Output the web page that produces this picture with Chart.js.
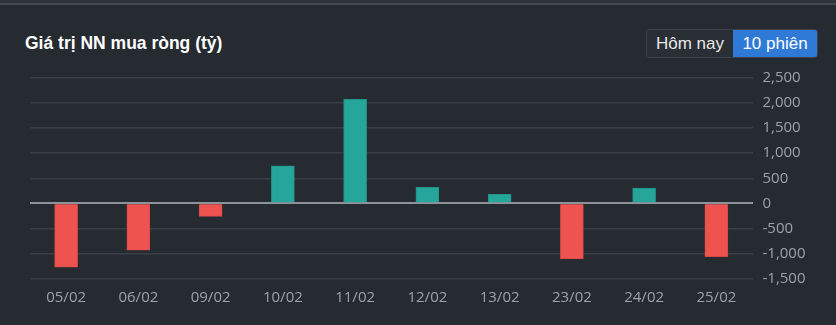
<!DOCTYPE html>
<html>
<head>
<meta charset="utf-8">
<script src="https://cdn.jsdelivr.net/npm/chart.js@4/dist/chart.umd.min.js"></script>
<style>
  html, body { margin: 0; padding: 0; background: #262a31; width: 836px; height: 325px; overflow: hidden; }
  #topband { position: absolute; left: 0; top: 0; width: 836px; height: 3px; background: #2f333a; }
  #topline { position: absolute; left: 0; top: 3px; width: 836px; height: 2px; background: #43474e; }
  #title { position: absolute; left: 25px; top: 33px; font: bold 17.5px "Liberation Sans", Arial, sans-serif; color: #ffffff; }
  #btns { position: absolute; left: 646px; top: 29px; height: 29px; display: flex; border: 1px solid #3d4149; border-radius: 3px; overflow: hidden; box-sizing: border-box; }
  .btn { font: 17px "Liberation Sans", Arial, sans-serif; line-height: 27px; color: #e8e8e8; padding: 0 8px; }
  #b1 { width: 86px; box-sizing: border-box; background: #2a2e35; text-align: center; }
  #b2 { width: 84px; box-sizing: border-box; background: #2f7ad6; color: #ffffff; text-align: center; }
  #wrap { position: absolute; left: 0; top: 0; width: 836px; height: 325px; }
</style>
</head>
<body>
<div id="topband"></div>
<div id="topline"></div>
<div id="title">Giá trị NN mua ròng (tỷ)</div>
<div id="btns"><div class="btn" id="b1">Hôm nay</div><div class="btn" id="b2">10 phiên</div></div>
<div id="wrap"><canvas id="c" width="836" height="325"></canvas></div>
<script>
const categories = ["05/02", "06/02", "09/02", "10/02", "11/02", "12/02", "13/02", "23/02", "24/02", "25/02"];
const netBuyValues = [-1275, -935, -260, 750, 2075, 320, 180, -1110, 305, -1065];
const yTickValues = [-1500, -1000, -500, 0, 500, 1000, 1500, 2000, 2500];

const RED = "#ef5350", TEAL = "#26a69a";
new Chart(document.getElementById("c"), {
  type: "bar",
  data: {
    labels: categories,
    datasets: [{
      data: netBuyValues,
      backgroundColor: netBuyValues.map(v => v >= 0 ? TEAL : RED),
      borderColor: netBuyValues.map(v => v >= 0 ? "#229488" : "#d94a47"),
      borderWidth: 1,
      barThickness: 23
    }]
  },
  options: {
    responsive: false,
    animation: false,
    layout: { padding: { top: 78, left: 30, right: 0, bottom: 0 } },
    plugins: { legend: { display: false }, tooltip: { enabled: false } },
    scales: {
      x: {
        grid: { display: false, drawTicks: false },
        border: { display: false },
        ticks: { color: "#9ca1aa", font: { family: "Open Sans", size: 15 }, padding: 10, maxRotation: 0 },
        afterFit: a => { a.height = 46.5; }
      },
      y: {
        position: "right",
        min: -1500, max: 2500,
        afterBuildTicks: a => { a.ticks = yTickValues.map(v => ({ value: v })); },
        grid: {
          drawTicks: false,
          color: c => c.tick && c.tick.value === 0 ? "#8e929b" : "#3a3e46",
          lineWidth: c => c.tick && c.tick.value === 0 ? 2 : 1.5
        },
        border: { display: false },
        ticks: {
          color: "#9ca1aa", font: { family: "Open Sans", size: 15 }, padding: 10,
          callback: v => v.toLocaleString("en-US")
        },
        afterFit: a => { a.width = 83.5; }
      }
    }
  }
});
</script>
</body>
</html>
